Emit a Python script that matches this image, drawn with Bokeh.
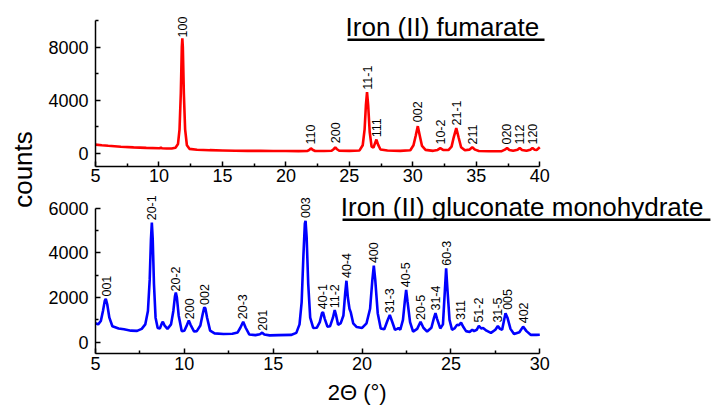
import math
from bokeh.plotting import figure
from bokeh.models import Range1d, FixedTicker, Label, LabelSet, ColumnDataSource, Arrow
from bokeh.layouts import row, column
from bokeh.embed import file_html
from bokeh.resources import INLINE
from bokeh.core.properties import value

FONT = "Liberation Sans"

# ---------------- Iron (II) fumarate (top panel) ----------------
fum_x = [5.0, 5.5, 6.0, 7.0, 8.0, 9.0, 10.0, 10.1, 10.15, 10.22, 10.6, 11.0, 11.3, 11.5, 11.62,
         11.72, 11.8, 11.84, 11.88, 11.96, 12.06, 12.2, 12.4, 13.0, 14.0, 15.0, 16.0, 17.0, 18.0,
         19.0, 20.0, 21.0, 21.7, 21.85, 21.97, 22.1, 22.3, 23.0, 23.6, 23.78, 23.89, 24.0, 24.2,
         25.0, 25.8, 26.05, 26.2, 26.3, 26.39, 26.48, 26.6, 26.75, 26.9, 27.0, 27.13, 27.26, 27.45,
         28.0, 29.0, 29.8, 30.05, 30.22, 30.39, 30.55, 30.72, 31.0, 31.6, 31.95, 32.16, 32.38, 32.8,
         33.05, 33.22, 33.42, 33.6, 33.8, 34.1, 34.45, 34.68, 34.9, 35.2, 36.0, 37.0, 37.25, 37.42,
         37.6, 37.9, 38.25, 38.42, 38.6, 38.95, 39.25, 39.42, 39.6, 39.75, 40.0]
fum_y = [650, 600, 560, 490, 440, 400, 370, 380, 440, 380, 360, 360, 420, 700, 1800,
         4500, 8000, 8650, 8000, 4500, 1800, 600, 330, 260, 230, 210, 190, 180, 175,
         170, 165, 160, 170, 260, 370, 260, 170, 165, 190, 320, 440, 320, 190,
         175, 210, 600, 1800, 3600, 4600, 3600, 1600, 500, 420, 700, 1030, 650, 280,
         200, 180, 230, 600, 1300, 2040, 1300, 550, 250, 180, 250, 380, 250, 240,
         500, 1200, 1890, 1200, 450, 220, 270, 450, 270, 170, 150, 160, 270, 400,
         250, 180, 260, 400, 250, 180, 270, 400, 260, 240, 450]

fum_lab_text = ["100", "110", "200", "11-1", "111", "002", "10-2", "21-1", "211", "020", "112", "120"]
fum_lab_x = [11.84, 21.97, 23.89, 26.39, 27.16, 30.39, 32.16, 33.42, 34.68, 37.37, 38.37, 39.39]
fum_lab_y = [8720, 655, 756, 4790, 1210, 2340, 655, 2090, 655, 655, 655, 655]

# ------------- Iron (II) gluconate monohydrate (bottom panel) -------------
glu_x = [5.0, 5.15, 5.3, 5.42, 5.52, 5.58, 5.66, 5.78, 5.95, 6.3, 6.6, 7.0, 7.34, 7.6, 7.8,
         7.95, 8.05, 8.12, 8.17, 8.22, 8.29, 8.38, 8.5, 8.62, 8.72, 8.79, 8.88, 9.05, 9.25, 9.38,
         9.47, 9.52, 9.58, 9.68, 9.85, 10.0, 10.15, 10.25, 10.35, 10.55, 10.7, 10.9, 11.03, 11.12,
         11.18, 11.28, 11.45, 11.7, 12.2, 12.7, 13.0, 13.15, 13.31, 13.45, 13.65, 14.0, 14.25,
         14.38, 14.5, 14.8, 15.3, 16.0, 16.3, 16.48, 16.6, 16.7, 16.78, 16.82, 16.88, 16.97, 17.08,
         17.25, 17.45, 17.62, 17.74, 17.8, 17.9, 18.05, 18.2, 18.36, 18.46, 18.54, 18.65, 18.8,
         18.95, 19.05, 19.12, 19.2, 19.29, 19.36, 19.5, 19.7, 20.0, 20.25, 20.45, 20.58, 20.66,
         20.74, 20.88, 21.05, 21.25, 21.42, 21.56, 21.68, 21.85, 21.98, 22.05, 22.15, 22.3, 22.4,
         22.48, 22.56, 22.7, 22.87, 23.1, 23.29, 23.45, 23.66, 23.9, 24.05, 24.13, 24.22, 24.4,
         24.55, 24.65, 24.73, 24.8, 24.92, 25.06, 25.2, 25.35, 25.45, 25.57, 25.7, 25.85, 26.05,
         26.2, 26.3, 26.45, 26.57, 26.7, 26.81, 27.0, 27.25, 27.5, 27.64, 27.76, 27.88, 27.98,
         28.07, 28.18, 28.35, 28.55, 28.85, 29.06, 29.25, 29.5, 29.8, 30.0]
glu_y = [850, 800, 950, 1400, 1850, 1940, 1700, 1100, 720, 620, 580, 520, 510, 600, 800,
         1400, 2800, 4600, 5350, 4600, 2600, 1100, 640, 620, 820, 920, 760, 600, 800, 1400,
         2050, 2220, 2000, 1200, 500, 520, 780, 970, 780, 480, 500, 750, 1250, 1560,
         1520, 1100, 520, 400, 370, 380, 440, 650, 920, 650, 350, 320, 360,
         430, 350, 310, 320, 330, 420, 800, 1800, 3900, 5300, 5430, 4700, 2600, 1100,
         640, 650, 900, 1300, 1350, 1050, 700, 720, 1100, 1440, 1200, 780, 860,
         1200, 2200, 2750, 2000, 1500, 1350, 850, 680, 640, 850, 1500, 2800, 3420,
         2800, 1300, 620, 580, 950, 1220, 950, 560, 600, 640, 560, 1000, 1800,
         2340, 1800, 900, 480, 600, 920, 650, 480, 650, 1100, 1300, 1050, 620,
         800, 2200, 3310, 2400, 1000, 560, 620, 790, 760, 880, 680, 500, 460,
         560, 500, 560, 730, 620, 640, 520, 420, 560, 730, 600, 560, 950,
         1300, 1100, 600, 370, 450, 700, 500, 330, 330, 340]

glu_lab_text = ["001", "20-1", "20-2", "200", "002", "20-3", "201", "003", "40-1", "11-2", "40-4",
                "400", "31-3", "40-5", "20-5", "31-4", "60-3", "311", "51-2", "31-5", "005", "402"]
glu_lab_x = [5.62, 8.17, 9.52, 10.29, 11.15, 13.29, 14.41, 16.82, 17.79, 18.47, 19.12,
             20.66, 21.56, 22.46, 23.29, 24.13, 24.73, 25.54, 26.57, 27.64, 28.16, 29.1]
glu_lab_y = [2045, 5450, 2270, 1030, 1670, 1030, 520, 5550, 1480, 1520, 2870,
             3540, 1300, 2460, 1000, 1420, 3420, 1000, 880, 880, 1450, 850]

top_xlim = (5, 40)
top_ylim = (-1000, 10000)
top_xticks = [5, 10, 15, 20, 25, 30, 35, 40]
top_xminor = [7.5, 12.5, 17.5, 22.5, 27.5, 32.5, 37.5]
top_yticks = [0, 4000, 8000]
top_yminor = [2000, 6000, 10000]
bot_xlim = (5, 30)
bot_ylim = (-500, 6000)
bot_xticks = [5, 10, 15, 20, 25, 30]
bot_xminor = [7.5, 12.5, 17.5, 22.5, 27.5]
bot_yticks = [0, 2000, 4000, 6000]
bot_yminor = [1000, 3000, 5000]

# ---------------- layout (pixels) ----------------
W, H = 711, 405
LEFT_W = 40            # strip holding "counts"
AX_LEFT = 55           # space for y tick labels
AXIS_W = 444.3         # drawn axis length (x)
AXIS_H = 146.0         # drawn axis length (y, top panel)
TOP_H, TOP_PAD, TOP_BORDER = 190, 20, 24
BOT_H, BOT_PAD, BOT_BORDER = 189, 17.5, 26
XT_H = H - TOP_H - BOT_H      # strip holding x title
FRAME_W = W - LEFT_W - AX_LEFT


def ext_range(lim, axis_px, frame_px):
    return lim[0] + (lim[1] - lim[0]) * frame_px / axis_px


def style(p, xt, xminor, yt, yminor, xlim, ylim, xstand):
    p.xaxis.ticker = FixedTicker(ticks=xt, minor_ticks=xminor)
    p.yaxis.ticker = FixedTicker(ticks=yt, minor_ticks=yminor)
    p.xaxis.bounds = xlim
    p.yaxis.bounds = ylim
    p.grid.visible = False
    p.outline_line_color = None
    for ax in (p.xaxis, p.yaxis):
        ax.axis_line_color = "black"
        ax.axis_line_width = 1.5
        ax.major_tick_line_width = 1.5
        ax.minor_tick_line_width = 1.5
        ax.major_tick_in = 5
        ax.major_tick_out = 0
        ax.minor_tick_in = 3
        ax.minor_tick_out = 0
        ax.major_label_text_font = FONT
        ax.major_label_text_font_size = "18px"
        ax.major_label_text_color = "black"
    p.xaxis.major_label_standoff = xstand
    p.yaxis.major_label_standoff = 7


# strip with the shared y label
pc = figure(width=LEFT_W, height=H, x_range=Range1d(0, LEFT_W), y_range=Range1d(0, H),
            min_border=0, toolbar_location=None, output_backend="svg",
            x_axis_location=None, y_axis_location=None)
pc.grid.visible = False
pc.outline_line_color = None
pc.add_layout(Label(x=22, y=H - 169, text="counts", angle=math.pi / 2, text_align="center",
                    text_baseline="middle", text_font=FONT, text_font_size="26px",
                    text_color="black"))

# top panel
f1_h = TOP_H - TOP_BORDER
p1 = figure(width=W - LEFT_W, height=TOP_H,
            x_range=Range1d(top_xlim[0], ext_range(top_xlim, AXIS_W, FRAME_W)),
            y_range=Range1d(top_ylim[0], ext_range(top_ylim, AXIS_H, f1_h)),
            min_border_left=AX_LEFT, min_border_right=0, min_border_top=0,
            min_border_bottom=TOP_BORDER, toolbar_location=None, output_backend="svg")
style(p1, top_xticks, top_xminor, top_yticks, top_yminor, top_xlim, top_ylim, 2)
p1.line(fum_x, fum_y, line_color="#ff0000", line_width=2.6)
src1 = ColumnDataSource(dict(x=fum_lab_x, y=fum_lab_y, t=fum_lab_text))
p1.add_layout(LabelSet(x="x", y="y", text="t", source=src1, angle=math.pi / 2,
                       text_align="left", text_baseline="middle", text_font=value(FONT),
                       text_font_size="12.5px", text_color="black"))
u1 = (top_ylim[1] - top_ylim[0]) / AXIS_H   # data units per pixel
p1.add_layout(Label(x=24.7, y=top_ylim[1] - (26 - TOP_PAD) * u1, text="Iron (II) fumarate",
                    text_font=FONT, text_font_size="26px", text_align="left",
                    text_baseline="middle", text_color="black"))
p1.add_layout(Arrow(x_start=24.85, y_start=top_ylim[1] - (39.3 - TOP_PAD) * u1, x_end=40.37,
                    y_end=top_ylim[1] - (39.3 - TOP_PAD) * u1, start=None, end=None,
                    line_color="black", line_width=2.5))

# bottom panel
f2_h = BOT_H - BOT_BORDER
p2 = figure(width=W - LEFT_W, height=BOT_H,
            x_range=Range1d(bot_xlim[0], ext_range(bot_xlim, AXIS_W, FRAME_W)),
            y_range=Range1d(bot_ylim[0], ext_range(bot_ylim, f2_h - BOT_PAD, f2_h)),
            min_border_left=AX_LEFT, min_border_right=0, min_border_top=0,
            min_border_bottom=BOT_BORDER, toolbar_location=None, output_backend="svg")
style(p2, bot_xticks, bot_xminor, bot_yticks, bot_yminor, bot_xlim, bot_ylim, 3)
p2.line(glu_x, glu_y, line_color="#0000ff", line_width=2.6)
src2 = ColumnDataSource(dict(x=glu_lab_x, y=glu_lab_y, t=glu_lab_text))
p2.add_layout(LabelSet(x="x", y="y", text="t", source=src2, angle=math.pi / 2,
                       text_align="left", text_baseline="middle", text_font=value(FONT),
                       text_font_size="12.5px", text_color="black"))
u2 = (bot_ylim[1] - bot_ylim[0]) / (f2_h - BOT_PAD)
bot_axis_top = TOP_H + BOT_PAD
p2.add_layout(Label(x=18.8, y=bot_ylim[1] - (206 - bot_axis_top) * u2,
                    text="Iron (II) gluconate monohydrate", text_font=FONT,
                    text_font_size="26px", text_align="left", text_baseline="middle",
                    text_color="black"))
p2.add_layout(Arrow(x_start=18.9, y_start=bot_ylim[1] - (219.3 - bot_axis_top) * u2,
                    x_end=39.6, y_end=bot_ylim[1] - (219.3 - bot_axis_top) * u2,
                    start=None, end=None, line_color="black", line_width=2.5))

# strip with the x title
px = figure(width=W - LEFT_W, height=XT_H, x_range=Range1d(0, W - LEFT_W),
            y_range=Range1d(0, XT_H), min_border=0, toolbar_location=None,
            output_backend="svg", x_axis_location=None, y_axis_location=None)
px.grid.visible = False
px.outline_line_color = None
px.add_layout(Label(x=325 - LEFT_W, y=H - 392, text="2Θ (°)", text_font=FONT,
                    text_font_size="22px", text_align="center", text_baseline="middle",
                    text_color="black"))

layout = row(pc, column(p1, p2, px))
open("out.html", "w").write(file_html(layout, INLINE))
